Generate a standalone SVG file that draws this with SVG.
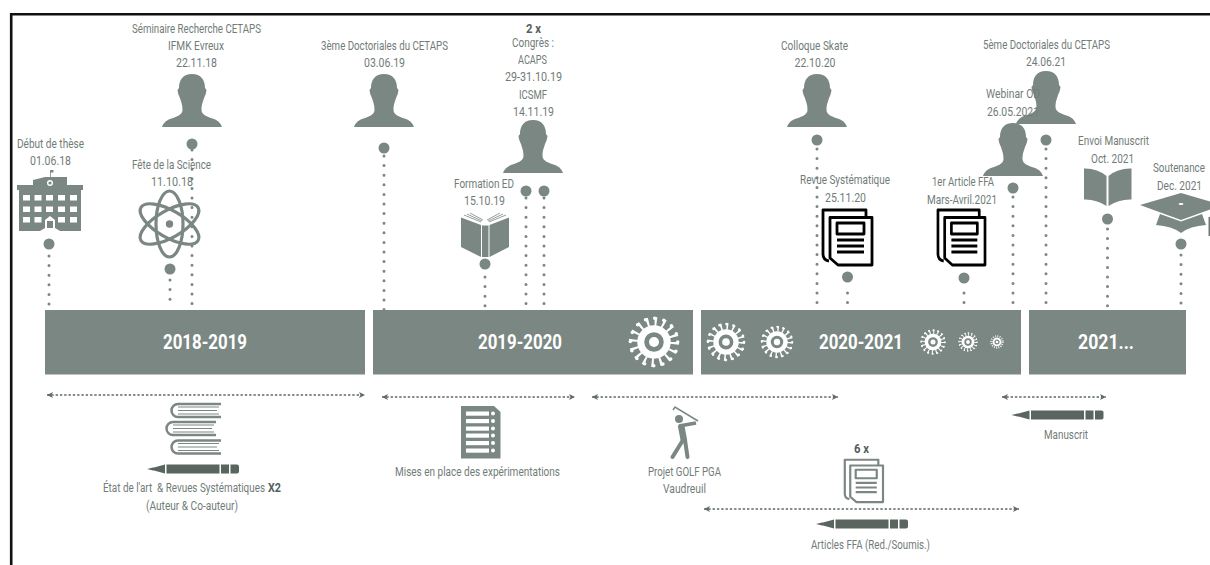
<svg xmlns="http://www.w3.org/2000/svg" width="1210" height="565" viewBox="0 0 1210 565">
<style>
text{font-family:"Roboto","Liberation Sans",sans-serif;font-size:13.5px;fill:#717c78;text-anchor:middle;transform:translateY(1px);white-space:pre}
.b{font-weight:700;fill:#555f5b}
.yr{font-weight:700;font-size:20px;fill:#fff;transform:none}
.f{fill:#7b8782}
.bar{fill:#7b8782}
.dots{stroke:#7b8782;stroke-width:3;stroke-linecap:round;stroke-dasharray:0 9.6;fill:none}
.arr{stroke:#5f6a66;stroke-width:1.3;stroke-dasharray:2.4 1.9;fill:none;marker-start:url(#ah);marker-end:url(#ah)}
.pin{fill:#7b8782}
</style>
<defs>
<marker id="ah" markerUnits="userSpaceOnUse" markerWidth="7" markerHeight="7" refX="6" refY="3.5" orient="auto-start-reverse"><path d="M0 .5L6 3.5L0 6.5L1.5 3.5Z" fill="#5f6a66"/></marker>
<path id="person" class="f" d="M0 0C-9 0-13 6-13 14L-14.500 16C-14 20-13 22-12 24C-11 28-9.500 30-9.500 36C-9.500 41-16 43-22 45C-27 47-29 50-30 53H30C29 50 27 47 22 45C16 43 9.500 41 9.500 36C9.500 30 11 28 12 24C13 22 14 20 14.500 16L13 14C13 6 9 0 0 0Z"/>
<g id="pen" fill="#5a655f"><path d="M0 0L6-1.500L7-1.500L18-4.500V4.500L7 1.500L6 1.500Z"/><rect x="19.500" y="-4.500" width="53" height="9"/><rect x="74" y="-4.500" width="8" height="9"/><path d="M83.500-4.500H90Q92-4.500 92-2.500V2.500Q92 4.500 90 4.500H83.500Z"/></g>
<g id="vbook" fill="none" stroke="#7b8782"><path d="M53 1H10A6.500 6.500 0 0 0 10 14H53" stroke-width="2.500"/><path d="M10 4H51M10 7.500H49M10 11H51" stroke-width="1"/></g>
<g id="virus"><circle r=".82" fill="none" stroke="#fff" stroke-width=".36" stroke-dasharray=".09 .232"/><circle r=".95" fill="none" stroke="#fff" stroke-width=".14" stroke-linecap="round" stroke-dasharray="0 .373"/><circle r=".53" fill="none" stroke="#fff" stroke-width=".28"/><circle r=".2" fill="#fff"/></g>
<g id="paper" fill="#fff" stroke="currentColor" stroke-width="2.800" stroke-linejoin="round"><path d="M44 8V1H1V45Q1 51 7 52" fill="none"/><path d="M8 8.500H50V56H16L8 49Z"/><rect x="15" y="14" width="27" height="11" fill="none"/><path d="M15 31H42M15 37H42M15 43H42" fill="none"/></g>
</defs>
<g id="frame"><path d="M11.200 565V14.300H1210" fill="none" stroke="#111" stroke-width="2.600"/></g>
<g id="connectors">
<line class="dots" x1="49" y1="256" x2="49" y2="307"/>
<line class="dots" x1="170" y1="280" x2="170" y2="307"/>
<line class="dots" x1="192" y1="150" x2="192" y2="307"/>
<line class="dots" x1="384" y1="156" x2="384" y2="310"/>
<line class="dots" x1="485" y1="277" x2="485" y2="307"/>
<line class="dots" x1="526" y1="198" x2="526" y2="306"/>
<line class="dots" x1="544" y1="198" x2="544" y2="306"/>
<line class="dots" x1="817" y1="149" x2="817" y2="306"/>
<line class="dots" x1="847.500" y1="293" x2="847.500" y2="306"/>
<line class="dots" x1="964" y1="293" x2="964" y2="306"/>
<line class="dots" x1="1013" y1="197" x2="1013" y2="306"/>
<line class="dots" x1="1046" y1="149" x2="1046" y2="306"/>
<line class="dots" x1="1107.500" y1="229" x2="1107.500" y2="306"/>
<line class="dots" x1="1181" y1="255" x2="1181" y2="306"/>
<line class="arr" x1="47" y1="395" x2="365" y2="395"/>
<line class="arr" x1="382" y1="397" x2="575" y2="397"/>
<line class="arr" x1="592" y1="397" x2="838" y2="397"/>
<line class="arr" x1="1002" y1="397" x2="1106" y2="397"/>
<line class="arr" x1="704" y1="509" x2="1019" y2="509"/>
</g>
<g id="bars">
<g id="bar-2018"><rect class="bar" x="45" y="310" width="320" height="64.500"/><text class="yr" x="205" y="348.500" textLength="84" lengthAdjust="spacingAndGlyphs">2018-2019</text></g>
<g id="bar-2019"><rect class="bar" x="373" y="310" width="320" height="64.500"/><text class="yr" x="520" y="348.500" textLength="84" lengthAdjust="spacingAndGlyphs">2019-2020</text><use href="#virus" transform="translate(654 342) scale(25)"/></g>
<g id="bar-2020"><rect class="bar" x="701" y="310" width="320" height="64.500"/><text class="yr" x="861" y="348.500" textLength="84" lengthAdjust="spacingAndGlyphs">2020-2021</text><use href="#virus" transform="translate(726 342) scale(19)"/><use href="#virus" transform="translate(777 342) scale(16)"/><use href="#virus" transform="translate(933 342) scale(12.500)"/><use href="#virus" transform="translate(968 342) scale(9.500)"/><use href="#virus" transform="translate(997 342) scale(6.500)"/></g>
<g id="bar-2021"><rect class="bar" x="1029" y="310" width="157" height="64.500"/><text class="yr" x="1106" y="348.500" textLength="56" lengthAdjust="spacingAndGlyphs">2021...</text></g>
</g>
<g id="node-debut">
<text x="50.500" y="147" textLength="67" lengthAdjust="spacingAndGlyphs">Début de thèse</text><text x="50.500" y="164" textLength="41" lengthAdjust="spacingAndGlyphs">01.06.18</text>
<path class="f" d="M50 177V170H53.500V172.500H50.800V177H67V185H83V190H81V231H60L55 228H45L40 231H19V190H17V185H33V180L45 177Z"/>
<g fill="#fff"><rect x="23" y="195" width="7" height="5.500"/><rect x="34.500" y="195" width="7" height="5.500"/><rect x="46" y="195" width="7" height="5.500"/><rect x="58" y="195" width="7" height="5.500"/><rect x="70" y="195" width="7" height="5.500"/><rect x="23" y="206.500" width="7" height="5.500"/><rect x="34.500" y="206.500" width="7" height="5.500"/><rect x="46" y="206.500" width="7" height="5.500"/><rect x="58" y="206.500" width="7" height="5.500"/><rect x="70" y="206.500" width="7" height="5.500"/><rect x="23" y="217" width="7" height="5.500"/><rect x="34.500" y="217" width="7" height="5.500"/><rect x="58" y="217" width="7" height="5.500"/><rect x="70" y="217" width="7" height="5.500"/><path d="M45 228V220L50 216L55 220V228H53V221H47V228Z"/><circle cx="50" cy="183" r="3"/></g><circle class="f" cx="50" cy="183" r="1.600"/>
<circle class="pin" cx="49" cy="244" r="5.500"/></g>
<g id="node-seminaire">
<text x="196.500" y="32" textLength="129" lengthAdjust="spacingAndGlyphs">Séminaire Recherche CETAPS</text><text x="196" y="49" textLength="56" lengthAdjust="spacingAndGlyphs">IFMK Evreux</text><text x="196.500" y="66" textLength="41" lengthAdjust="spacingAndGlyphs">22.11.18</text>
<use href="#person" x="192" y="74"/><circle class="pin" cx="192" cy="144" r="5.500"/></g>
<g id="node-fete">
<text x="171.500" y="168" textLength="79" lengthAdjust="spacingAndGlyphs">Fête de la Science</text><text x="172" y="185" textLength="42" lengthAdjust="spacingAndGlyphs">11.10.18</text>
<g transform="translate(169.500 224)" fill="none" stroke="#7b8782" stroke-width="3.200"><ellipse rx="33" ry="13.500" transform="rotate(90)"/><ellipse rx="33" ry="13.500" transform="rotate(30)"/><ellipse rx="33" ry="13.500" transform="rotate(-30)"/><circle r="3.700" fill="#7b8782" stroke="none"/></g>
<circle class="pin" cx="170" cy="269" r="5.500"/></g>
<g id="node-doc3">
<text x="384.500" y="49" textLength="127" lengthAdjust="spacingAndGlyphs">3ème Doctoriales du CETAPS</text><text x="384.500" y="66" textLength="41" lengthAdjust="spacingAndGlyphs">03.06.19</text>
<use href="#person" x="384" y="74"/><circle class="pin" cx="384" cy="148" r="5.500"/></g>
<g id="node-congres">
<text class="b" x="533.500" y="32" textLength="15" lengthAdjust="spacingAndGlyphs">2 x</text><text x="533" y="46" textLength="42" lengthAdjust="spacingAndGlyphs">Congrès :</text><text x="532.500" y="63" textLength="29" lengthAdjust="spacingAndGlyphs">ACAPS</text><text x="533.500" y="80" textLength="57" lengthAdjust="spacingAndGlyphs">29-31.10.19</text><text x="533" y="98" textLength="28" lengthAdjust="spacingAndGlyphs">ICSMF</text><text x="533.500" y="115" textLength="41" lengthAdjust="spacingAndGlyphs">14.11.19</text>
<use href="#person" x="533" y="120"/><circle class="pin" cx="526" cy="191" r="5.500"/><circle class="pin" cx="544" cy="191" r="5.500"/></g>
<g id="node-formation">
<text x="484" y="187" textLength="60" lengthAdjust="spacingAndGlyphs">Formation ED</text><text x="484.500" y="204" textLength="41" lengthAdjust="spacingAndGlyphs">15.10.19</text>
<path d="M464 215L481 222M467 214L482 221M470 213L483 220M506 215L489 222M503 214L488 221M500 213L487 220" stroke="#7b8782" stroke-width=".8"/>
<path class="f" d="M461 217.500L481 225V257L461 247ZM509 217.500L489.500 225V257L509 247ZM482 225.500H488.500V257H482Z"/>
<circle class="pin" cx="485" cy="264" r="5.500"/></g>
<g id="node-colloque">
<text x="814.500" y="49" textLength="67" lengthAdjust="spacingAndGlyphs">Colloque Skate</text><text x="815" y="66" textLength="41" lengthAdjust="spacingAndGlyphs">22.10.20</text>
<use href="#person" x="817" y="74"/><circle class="pin" cx="817" cy="140" r="5.500"/></g>
<g id="node-revue">
<text x="845" y="183" textLength="90" lengthAdjust="spacingAndGlyphs">Revue Systématique</text><text x="845.500" y="201" textLength="41" lengthAdjust="spacingAndGlyphs">25.11.20</text>
<use href="#paper" transform="translate(822 209)" color="#000"/><circle class="pin" cx="847.500" cy="277" r="5.500"/></g>
<g id="node-article">
<text x="963" y="185" textLength="62" lengthAdjust="spacingAndGlyphs">1er Article FFA</text><text x="962" y="203" textLength="70" lengthAdjust="spacingAndGlyphs">Mars-Avril.2021</text>
<use href="#paper" transform="translate(937 209) scale(.96 1)" color="#000"/><circle class="pin" cx="964" cy="278" r="5.500"/></g>
<g id="node-doc5">
<use href="#person" x="1046" y="71"/>
<text x="1046.500" y="48" textLength="127" lengthAdjust="spacingAndGlyphs">5ème Doctoriales du CETAPS</text><text x="1046" y="65" textLength="40" lengthAdjust="spacingAndGlyphs">24.06.21</text>
<circle class="pin" cx="1046" cy="140" r="5.500"/></g>
<g id="node-webinar">
<use href="#person" x="1013" y="123"/>
<text x="1013" y="97" textLength="54" lengthAdjust="spacingAndGlyphs">Webinar OD</text><text x="1013" y="115" textLength="52" lengthAdjust="spacingAndGlyphs">26.05.2021</text>
<circle class="pin" cx="1013" cy="188" r="5.500"/></g>
<g id="node-envoi">
<text x="1113.500" y="144" textLength="71" lengthAdjust="spacingAndGlyphs">Envoi Manuscrit</text><text x="1112.500" y="162" textLength="43" lengthAdjust="spacingAndGlyphs">Oct. 2021</text>
<path class="f" d="M1084 168.500Q1097 168 1106.500 176V206Q1096 199 1084 199.500ZM1131.500 168.500Q1118 168 1108.500 176V206Q1119 199 1131.500 199.500Z"/>
<circle class="pin" cx="1107.500" cy="219" r="5.500"/></g>
<g id="node-soutenance">
<g transform="translate(1179 171) scale(.75 1)"><text textLength="69.300" lengthAdjust="spacingAndGlyphs">Soutenance</text></g><g transform="translate(1179.500 189) scale(.75 1)"><text textLength="60" lengthAdjust="spacingAndGlyphs">Dec. 2021</text></g>
<path class="f" d="M1140 205L1181 193L1210 201.500V209.500L1181 220Z"/><ellipse cx="1181" cy="204" rx="2.500" ry="1" fill="#fff"/>
<path class="f" d="M1160 214L1181 221.500L1202 214L1206 225Q1190 226 1181 233Q1172 226 1156 225Z"/>
<rect x="1208.500" y="217" width="1.500" height="19" fill="#6f7a76"/>
<circle class="pin" cx="1181" cy="244" r="5.500"/></g>
<g id="node-etat">
<use href="#vbook" x="168" y="403"/><use href="#vbook" x="163" y="421"/><use href="#vbook" x="168" y="439.500"/>
<use href="#pen" x="147" y="469"/>
<g transform="translate(184 491) scale(.72 1)"><text textLength="225" lengthAdjust="spacingAndGlyphs">État de l'art  &amp; Revues Systématiques</text></g><text class="b" x="274.500" y="491" textLength="13" lengthAdjust="spacingAndGlyphs">X2</text><text x="192" y="509" textLength="92" lengthAdjust="spacingAndGlyphs">(Auteur &amp; Co-auteur)</text></g>
<g id="node-mises">
<path class="f" d="M461 406H494L500.500 412V458.500H461Z"/>
<g fill="#fff"><rect x="466" y="411.500" width="23" height="4.200"/><rect x="466" y="419" width="23" height="4.200"/><rect x="466" y="426.500" width="23" height="4.200"/><rect x="466" y="433.500" width="23" height="4.200"/><rect x="466" y="441" width="23" height="4.200"/><rect x="466" y="448.500" width="23" height="4.200"/><circle cx="493" cy="413.500" r="2"/><circle cx="493" cy="421" r="2"/><circle cx="493" cy="428.500" r="2"/><circle cx="493" cy="435.500" r="2"/><circle cx="493" cy="443" r="2"/><circle cx="493" cy="450.500" r="2"/></g>
<text x="477.500" y="475" textLength="165" lengthAdjust="spacingAndGlyphs">Mises en place des expérimentations</text></g>
<g id="node-golf">
<circle class="f" cx="679" cy="419" r="4"/>
<path d="M673 410L675 407L698 421" fill="none" stroke="#7b8782" stroke-width="1.500"/>
<path d="M679 426L696 423" stroke="#7b8782" stroke-width="3.500" fill="none"/>
<path d="M681 425L684 441" stroke="#7b8782" stroke-width="6.500" fill="none"/>
<path d="M683 440L672.500 457M685 440L687.500 457" stroke="#7b8782" stroke-width="4" fill="none" stroke-linecap="round"/>
<text x="684.500" y="475" textLength="73" lengthAdjust="spacingAndGlyphs">Projet GOLF PGA</text><text x="684.500" y="492" textLength="43" lengthAdjust="spacingAndGlyphs">Vaudreuil</text></g>
<g id="node-articles">
<text class="b" x="861.500" y="452" textLength="15" lengthAdjust="spacingAndGlyphs">6 x</text>
<use href="#paper" transform="translate(844 459) scale(.78 .77)" color="#7b8782"/>
<use href="#pen" x="816" y="524"/>
<text x="870.500" y="548" textLength="119" lengthAdjust="spacingAndGlyphs">Articles FFA (Red./Soumis.)</text></g>
<g id="node-manuscrit">
<use href="#pen" x="1011.500" y="415"/>
<text x="1066" y="438" textLength="44" lengthAdjust="spacingAndGlyphs">Manuscrit</text></g>
</svg>
